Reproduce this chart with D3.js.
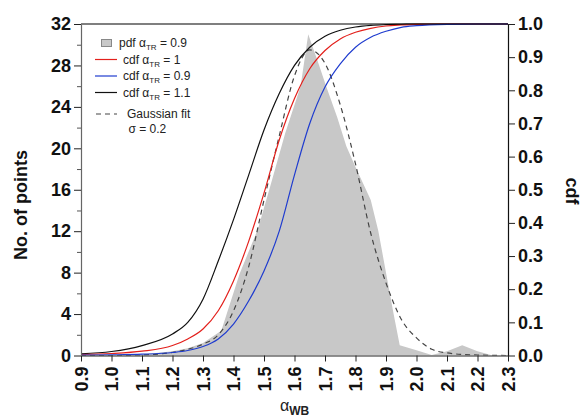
<!DOCTYPE html>
<html>
<head>
<meta charset="utf-8">
<script src="https://cdn.jsdelivr.net/npm/d3@7"></script>
<style>
  body { margin: 0; background: #fff; }
  svg { display: block; font-family: "Liberation Sans", Arial, sans-serif; }
</style>
</head>
<body>
<div id="chart"></div>
<script>
// histogram (pdf) of alpha_WB, counts
var pdfX     = [0.9, 1.0, 1.1, 1.2, 1.25, 1.3, 1.36, 1.42, 1.48, 1.52, 1.57, 1.62, 1.645, 1.675, 1.705, 1.74, 1.77, 1.80, 1.85, 1.875, 1.90, 1.925, 1.945, 2.0, 2.05, 2.1, 2.15, 2.2, 2.25, 2.3];
var pdfCount = [0, 0.02, 0.1, 0.4, 0.7, 1.2, 2.4, 7.9, 12.2, 16.3, 21.5, 26, 31, 28.5, 25.9, 23, 20.2, 18.2, 15, 12, 8, 4, 1.0, 0.5, 0.05, 0.4, 1.0, 0.4, 0, 0];

// gaussian fit, counts
var gaussX     = [0.9, 1.0, 1.1, 1.2, 1.25, 1.3, 1.35, 1.4, 1.45, 1.5, 1.55, 1.6, 1.65, 1.7, 1.75, 1.8, 1.85, 1.9, 1.95, 2.0, 2.05, 2.1, 2.15, 2.2, 2.3];
var gaussCount = [0, 0, 0.05, 0.3, 0.6, 1.1, 2.0, 4.3, 8.6, 15.0, 21.2, 27.0, 29.5, 28.2, 24.2, 18.5, 11.8, 7.0, 3.5, 1.7, 0.6, 0.25, 0.1, 0.05, 0];

// cumulative distributions (right axis)
var cdfX    = [0.9, 1.0, 1.1, 1.2, 1.25, 1.3, 1.35, 1.4, 1.45, 1.5, 1.55, 1.6, 1.65, 1.7, 1.75, 1.8, 1.85, 1.9, 1.95, 2.0, 2.1, 2.2, 2.3];
var cdfA10  = [0.003, 0.006, 0.013, 0.03, 0.05, 0.08, 0.135, 0.225, 0.345, 0.49, 0.65, 0.775, 0.865, 0.92, 0.955, 0.975, 0.987, 0.994, 0.997, 0.999, 1.0, 1.0, 1.0];
var cdfA09  = [0.001, 0.002, 0.004, 0.009, 0.015, 0.027, 0.05, 0.095, 0.165, 0.255, 0.375, 0.545, 0.70, 0.81, 0.88, 0.93, 0.96, 0.978, 0.99, 0.995, 0.999, 1.0, 1.0];
var cdfA11  = [0.005, 0.012, 0.03, 0.065, 0.10, 0.17, 0.285, 0.41, 0.545, 0.68, 0.79, 0.875, 0.93, 0.963, 0.981, 0.991, 0.996, 0.998, 0.999, 1.0, 1.0, 1.0, 1.0];

var xTicks  = [0.9, 1.0, 1.1, 1.2, 1.3, 1.4, 1.5, 1.6, 1.7, 1.8, 1.9, 2.0, 2.1, 2.2, 2.3];
var yLTicks = [0, 4, 8, 12, 16, 20, 24, 28, 32];
var yLMinor = [2, 6, 10, 14, 18, 22, 26, 30];
var yRTicks = [0, 0.1, 0.2, 0.3, 0.4, 0.5, 0.6, 0.7, 0.8, 0.9, 1.0];

var width = 581, height = 420;
var pL = 81, pR = 508, pT = 24, pB = 355.5;

var svg = d3.select("#chart").append("svg")
    .attr("width", width)
    .attr("height", height);

var x = d3.scaleLinear().domain([0.9, 2.3]).range([pL, pR]);
var yL = d3.scaleLinear().domain([0, 32]).range([pB, pT]);
var yR = d3.scaleLinear().domain([0, 1]).range([pB, pT]);

svg.append("clipPath").attr("id", "plot")
  .append("rect")
    .attr("x", pL).attr("y", pT - 1)
    .attr("width", pR - pL).attr("height", pB - pT + 1);

var plot = svg.append("g").attr("clip-path", "url(#plot)");

// pdf area
var pdfData = pdfX.map(function(v, i) { return [v, pdfCount[i]]; });
plot.append("path")
    .datum(pdfData)
    .attr("fill", "#c8c8c8")
    .attr("d", d3.area()
        .x(function(d) { return x(d[0]); })
        .y0(yL(0))
        .y1(function(d) { return yL(d[1]); }));

// gaussian fit
var gaussData = gaussX.map(function(v, i) { return [v, gaussCount[i]]; });
plot.append("path")
    .datum(gaussData)
    .attr("fill", "none")
    .attr("stroke", "#444")
    .attr("stroke-width", 1.2)
    .attr("stroke-dasharray", "5,4")
    .attr("d", d3.line()
        .curve(d3.curveMonotoneX)
        .x(function(d) { return x(d[0]); })
        .y(function(d) { return yL(d[1]); }));

// cdf lines
var cdfLine = d3.line()
    .curve(d3.curveMonotoneX)
    .x(function(d) { return x(d[0]); })
    .y(function(d) { return yR(d[1]); });

var cdfSeries = [
  { values: cdfA11, color: "#111111" },
  { values: cdfA10, color: "#e3201c" },
  { values: cdfA09, color: "#1f3ccf" }
];
cdfSeries.forEach(function(s) {
  plot.append("path")
      .datum(cdfX.map(function(v, i) { return [v, s.values[i]]; }))
      .attr("fill", "none")
      .attr("stroke", s.color)
      .attr("stroke-width", 1.2)
      .attr("d", cdfLine);
});

// frame top line
svg.append("line")
    .attr("x1", pL).attr("x2", pR)
    .attr("y1", pT).attr("y2", pT)
    .attr("stroke", "#000").attr("stroke-width", 1.2);

// axes
var tickFont = function(g) {
  g.selectAll("text")
    .attr("font-size", 18)
    .attr("font-weight", "bold")
    .attr("fill", "#111")
    .attr("font-family", "'Liberation Sans', Arial, sans-serif");
  g.selectAll("line").attr("stroke", "#222");
};

var xAxis = svg.append("g")
    .attr("transform", "translate(0," + pB + ")")
    .call(d3.axisBottom(x).tickValues(xTicks).tickFormat(d3.format(".1f")).tickSize(6).tickSizeOuter(0))
    .call(tickFont);
xAxis.select(".domain").attr("stroke", "#222").attr("stroke-width", 1.2);
xAxis.selectAll("text")
    .attr("transform", "rotate(-90)")
    .attr("text-anchor", "end")
    .attr("x", -11)
    .attr("y", 0)
    .attr("dy", "0.36em");

svg.append("g")
    .attr("transform", "translate(" + pL + ",0)")
    .call(d3.axisLeft(yL).tickValues(yLMinor).tickSize(4).tickFormat(""))
    .call(function(g) { g.select(".domain").remove(); g.selectAll("line").attr("stroke", "#555"); });

var yLeft = svg.append("g")
    .attr("transform", "translate(" + pL + ",0)")
    .call(d3.axisLeft(yL).tickValues(yLTicks).tickSize(7).tickSizeOuter(0).tickPadding(3))
    .call(tickFont);
yLeft.select(".domain").attr("stroke", "#666").attr("stroke-width", 1.2);

var yRight = svg.append("g")
    .attr("transform", "translate(" + pR + ",0)")
    .call(d3.axisRight(yR).tickValues(yRTicks).tickFormat(d3.format(".1f")).tickSize(7).tickSizeOuter(0).tickPadding(3))
    .call(tickFont);
yRight.select(".domain").attr("stroke", "#111").attr("stroke-width", 1.2);

// axis titles
svg.append("text")
    .attr("transform", "translate(27,205) rotate(-90)")
    .attr("text-anchor", "middle")
    .attr("font-size", 18)
    .attr("font-weight", "bold")
    .attr("fill", "#111")
    .text("No. of points");

svg.append("text")
    .attr("transform", "translate(566,191) rotate(90)")
    .attr("text-anchor", "middle")
    .attr("font-size", 18)
    .attr("font-weight", "bold")
    .attr("fill", "#111")
    .text("cdf");

var xt = svg.append("text")
    .attr("x", 280).attr("y", 411)
    .attr("fill", "#222");
xt.append("tspan").attr("font-size", 16).text("α");
xt.append("tspan").attr("font-size", 12).attr("font-weight", "bold").attr("dy", 4).text("WB");

// legend
var legend = svg.append("g").attr("font-size", 12).attr("fill", "#222");

legend.append("rect")
    .attr("x", 101.5).attr("y", 39.5)
    .attr("width", 10).attr("height", 7)
    .attr("fill", "#c8c8c8").attr("stroke", "#888");

function legendLabel(xp, yp, pre, val) {
  var t = legend.append("text").attr("x", xp).attr("y", yp);
  t.append("tspan").text(pre + " α");
  t.append("tspan").attr("font-size", 8).attr("dy", 3).text("TR");
  t.append("tspan").attr("dy", -3).text(" = " + val);
}
legendLabel(119, 47, "pdf", "0.9");

var legRows = [
  { y: 59.5, color: "#e3201c", val: "1" },
  { y: 76, color: "#1f3ccf", val: "0.9" },
  { y: 92.5, color: "#111111", val: "1.1" }
];
legRows.forEach(function(r) {
  legend.append("line")
      .attr("x1", 95).attr("x2", 117)
      .attr("y1", r.y).attr("y2", r.y)
      .attr("stroke", r.color).attr("stroke-width", 1.2);
  legendLabel(123, r.y + 4, "cdf", r.val);
});

legend.append("line")
    .attr("x1", 96).attr("x2", 117)
    .attr("y1", 114).attr("y2", 114)
    .attr("stroke", "#444").attr("stroke-width", 1.2)
    .attr("stroke-dasharray", "5,4");
legend.append("text").attr("x", 127).attr("y", 118).text("Gaussian fit");
legend.append("text").attr("x", 128.5).attr("y", 133).text("σ = 0.2");
</script>
</body>
</html>
